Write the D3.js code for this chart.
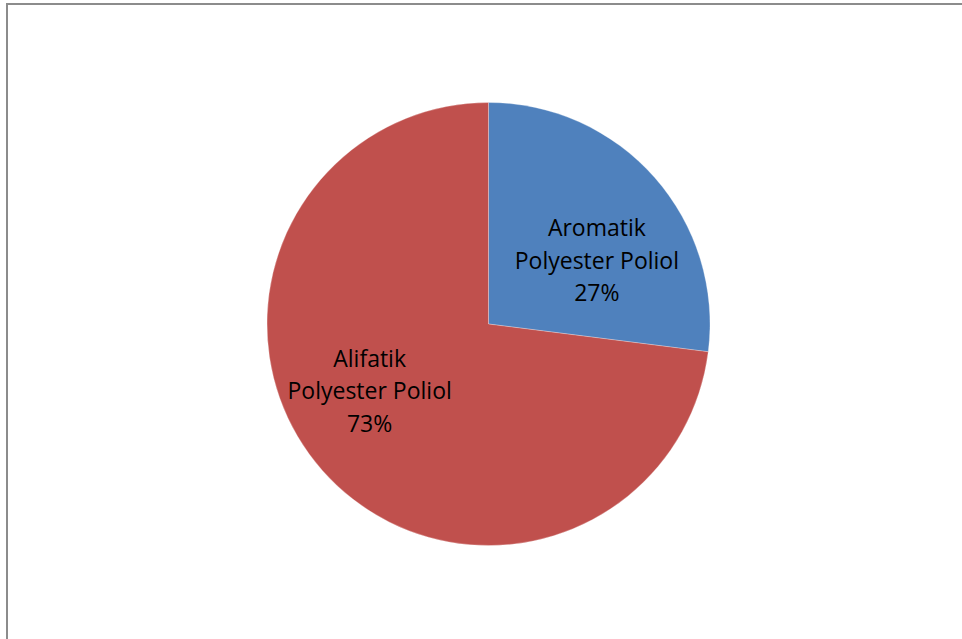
<!DOCTYPE html>
<html><head><meta charset="utf-8">
<script src="https://cdn.jsdelivr.net/npm/d3@7"></script>
<style>html,body{margin:0;padding:0;background:#fff;}svg{display:block;}</style>
</head><body>
<script>
const categories = ["Aromatik Polyester Poliol", "Alifatik Polyester Poliol"];
const labelLines = [["Aromatik", "Polyester Poliol"], ["Alifatik", "Polyester Poliol"]];
const values = [27, 73];
const colors = ["#4F81BD", "#C0504D"];

const W = 962, H = 639;
const cx = 488.5, cy = 324, R = 221.5;
// label offsets (px) of the middle-line baseline relative to the slice centroid, mimicking Excel's placement
const labelOffsets = [[17, 25.5], [-27.5, -5.5]];

const svg = d3.select("body").append("svg").attr("width", W).attr("height", H);
svg.append("rect").attr("x", 7).attr("y", 4).attr("width", W + 10).attr("height", H + 10)
  .attr("fill", "#fff").attr("stroke", "#8c8c8c").attr("stroke-width", 2);

const pie = d3.pie().sort(null).value(d => d);
const arcs = pie(values);
const arc = d3.arc().innerRadius(0).outerRadius(R);
const labelArc = d3.arc().innerRadius(R * 0.55).outerRadius(R * 0.55);

const g = svg.append("g").attr("transform", `translate(${cx},${cy})`);
g.selectAll("path").data(arcs).join("path")
  .attr("d", arc).attr("fill", (d, i) => colors[i])
  .attr("stroke", "rgba(255,255,255,0.35)").attr("stroke-width", 0.8);

const total = d3.sum(values);
const lineH = 32.5;
arcs.forEach((d, i) => {
  const [x, y] = labelArc.centroid(d);
  const lx = x + labelOffsets[i][0], ly = y + labelOffsets[i][1];
  const lines = labelLines[i].concat([Math.round(d.data / total * 100) + "%"]);
  const t = g.append("text").attr("text-anchor", "middle")
    .attr("font-family", "'Open Sans', Lato, sans-serif").attr("font-size", 23).attr("fill", "#000");
  lines.forEach((ln, j) => {
    t.append("tspan").attr("x", lx).attr("y", ly + (j - 1) * lineH).text(ln);
  });
});
</script>
</body></html>
